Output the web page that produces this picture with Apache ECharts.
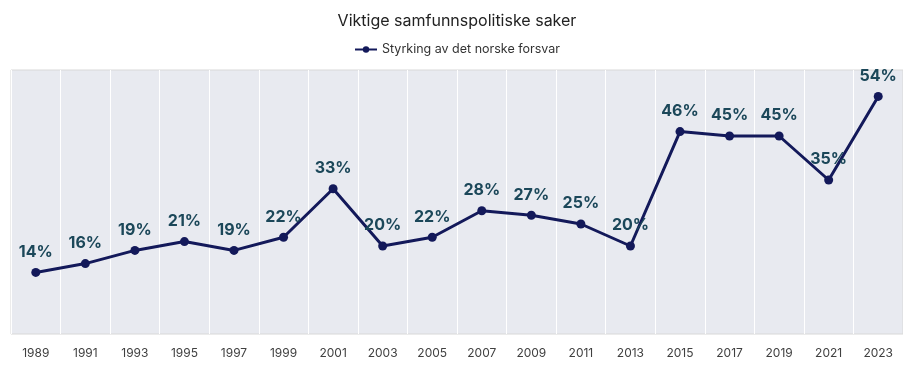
<!DOCTYPE html>
<html><head><meta charset="utf-8">
<script src="https://cdn.jsdelivr.net/npm/echarts@6/dist/echarts.min.js"></script>
<style>html,body{margin:0;padding:0;background:#fff}#c{width:914px;height:368px}</style>
</head><body><div id="c"></div>
<script>
const years = ['1989','1991','1993','1995','1997','1999','2001','2003','2005','2007','2009','2011','2013','2015','2017','2019','2021','2023'];
const values = [14,16,19,21,19,22,33,20,22,28,27,25,20,46,45,45,35,54];
const seriesName = 'Styrking av det norske forsvar';
const chart = echarts.init(document.getElementById('c'));
chart.setOption({
  animation:false,
  title:{text:'Viktige samfunnspolitiske saker',left:'center',top:8,textStyle:{fontFamily:'Inter',fontWeight:'normal',fontSize:16,color:'#222'}},
  legend:{top:38,left:'center',itemWidth:22,itemHeight:8,itemGap:3,textStyle:{fontFamily:'Inter',fontSize:12.5,color:'#333'},data:[seriesName]},
  grid:{left:11,right:11,top:70,bottom:34,show:true,backgroundColor:'#e8eaf0',borderColor:'#d8d8d8',borderWidth:1},
  xAxis:{type:'category',data:years,boundaryGap:true,axisLine:{show:false},axisTick:{show:false},
    axisLabel:{color:'#404040',fontFamily:'Inter',fontSize:12,margin:13},
    splitLine:{show:true,lineStyle:{color:'#ffffff',width:1}}},
  yAxis:{type:'value',min:0,max:60,show:false,splitLine:{show:false}},
  series:[{name:seriesName,type:'line',data:values,symbol:'circle',symbolSize:9,
    itemStyle:{color:'#13195a'},lineStyle:{color:'#13195a',width:3},
    label:{show:true,position:'top',distance:8,formatter:'{c}%',color:'#1b4759',fontFamily:'Inter',fontWeight:'bold',fontSize:16}}]
});
</script></body></html>
